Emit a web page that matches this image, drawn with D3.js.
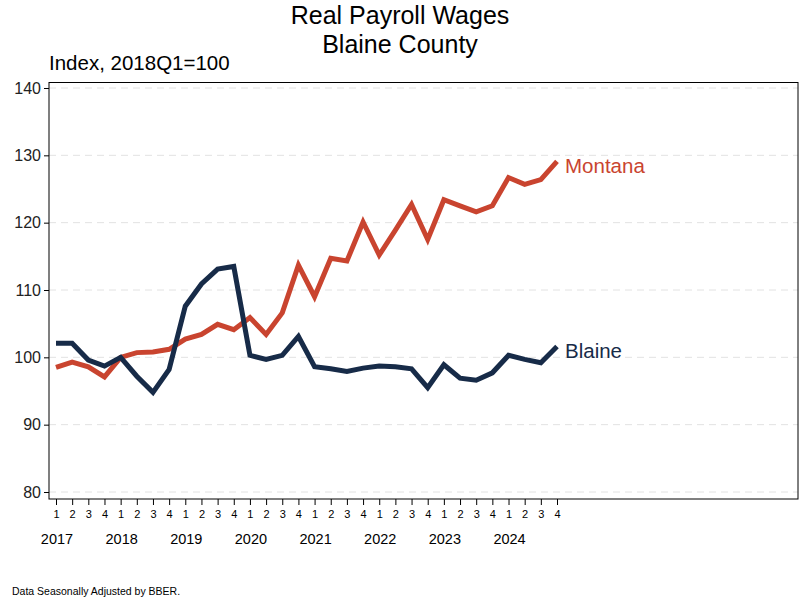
<!DOCTYPE html>
<html><head><meta charset="utf-8">
<script src="https://cdn.jsdelivr.net/npm/d3@7/dist/d3.min.js"></script>
<style>body{margin:0;background:#fff;} svg{display:block;font-family:"Liberation Sans",Arial,sans-serif;}</style>
</head><body>
<svg id="c" width="800" height="600"></svg>
<script>
const years = ["2017","2018","2019","2020","2021","2022","2023","2024"];
const quarterLabels = ["1","2","3","4"];
const montana = [98.5,99.3,98.6,97.1,100.0,100.7,100.8,101.2,102.7,103.4,104.9,104.1,105.9,103.4,106.6,113.7,109.0,114.7,114.3,120.1,115.2,118.9,122.7,117.5,123.4,122.5,121.6,122.5,126.7,125.7,126.4,129.1];
const blaine = [102.1,102.1,99.6,98.7,100.0,97.2,94.8,98.2,107.6,110.9,113.1,113.5,100.3,99.7,100.3,103.1,98.6,98.3,97.9,98.4,98.7,98.6,98.3,95.5,98.9,96.9,96.6,97.7,100.3,99.7,99.2,101.6];
const yTicks = [80,90,100,110,120,130,140];
const seriesNames = ["Montana","Blaine"];
const seriesColors = ["#C9442F","#172B48"];

const svg = d3.select("#c");
const frame = {l:49, r:798, t:82.5, b:499};
const x = d3.scaleLinear().domain([0,31]).range([56,557]);
const y = d3.scaleLinear().domain([80,140]).range([492,88]);

// gridlines
svg.append("g").selectAll("line").data(yTicks).join("line")
  .attr("x1",frame.l).attr("x2",frame.r)
  .attr("y1",d=>y(d)).attr("y2",d=>y(d))
  .attr("stroke","#e2e2e2").attr("stroke-width",1).attr("stroke-dasharray","7,5");

// frame
svg.append("rect").attr("x",frame.l).attr("y",frame.t)
  .attr("width",frame.r-frame.l).attr("height",frame.b-frame.t)
  .attr("fill","none").attr("stroke","#000").attr("stroke-width",1);

// y axis
const yAxis = d3.axisLeft(y).tickValues(yTicks).tickSize(5).tickPadding(3);
const yg = svg.append("g").attr("transform",`translate(${frame.l},0)`).call(yAxis);
yg.select(".domain").remove();
yg.selectAll("text").attr("font-size",16).attr("fill","#222").style("font-family","'Liberation Sans',Arial,sans-serif");

// x axis (quarters)
const idx = d3.range(32);
const xAxis = d3.axisBottom(x).tickValues(idx).tickSize(6).tickPadding(5)
  .tickFormat(i=>quarterLabels[i%4]);
const xg = svg.append("g").attr("transform",`translate(0,${frame.b})`).call(xAxis);
xg.select(".domain").remove();
xg.selectAll("text").attr("font-size",11).attr("fill","#000").style("font-family","'Liberation Sans',Arial,sans-serif");

// year labels
svg.append("g").selectAll("text").data(years).join("text")
  .attr("x",(d,i)=>x(i*4)+1).attr("y",544)
  .attr("text-anchor","middle").attr("font-size",14.5).attr("fill","#000")
  .text(d=>d);

// lines
const line = d3.line().x((d,i)=>x(i)).y(d=>y(d));
[montana, blaine].forEach((s,k)=>{
  svg.append("path").datum(s).attr("d",line)
    .attr("fill","none").attr("stroke",seriesColors[k]).attr("stroke-width",5)
    .attr("stroke-linejoin","miter").attr("stroke-linecap","butt");
  svg.append("text").attr("x",x(31)+8).attr("y",y(s[31])+11.5)
    .attr("font-size",20.5).attr("fill",seriesColors[k]).text(seriesNames[k]);
});

// titles
svg.append("text").attr("x",400).attr("y",24).attr("text-anchor","middle")
  .attr("font-size",25).attr("fill","#000").text("Real Payroll Wages");
svg.append("text").attr("x",400).attr("y",52.5).attr("text-anchor","middle")
  .attr("font-size",25).attr("fill","#000").text("Blaine County");
svg.append("text").attr("x",49).attr("y",70)
  .attr("font-size",20.5).attr("fill","#000").text("Index, 2018Q1=100");
svg.append("text").attr("x",12).attr("y",595)
  .attr("font-size",10.5).attr("fill","#000").text("Data Seasonally Adjusted by BBER.");
</script>
</body></html>
